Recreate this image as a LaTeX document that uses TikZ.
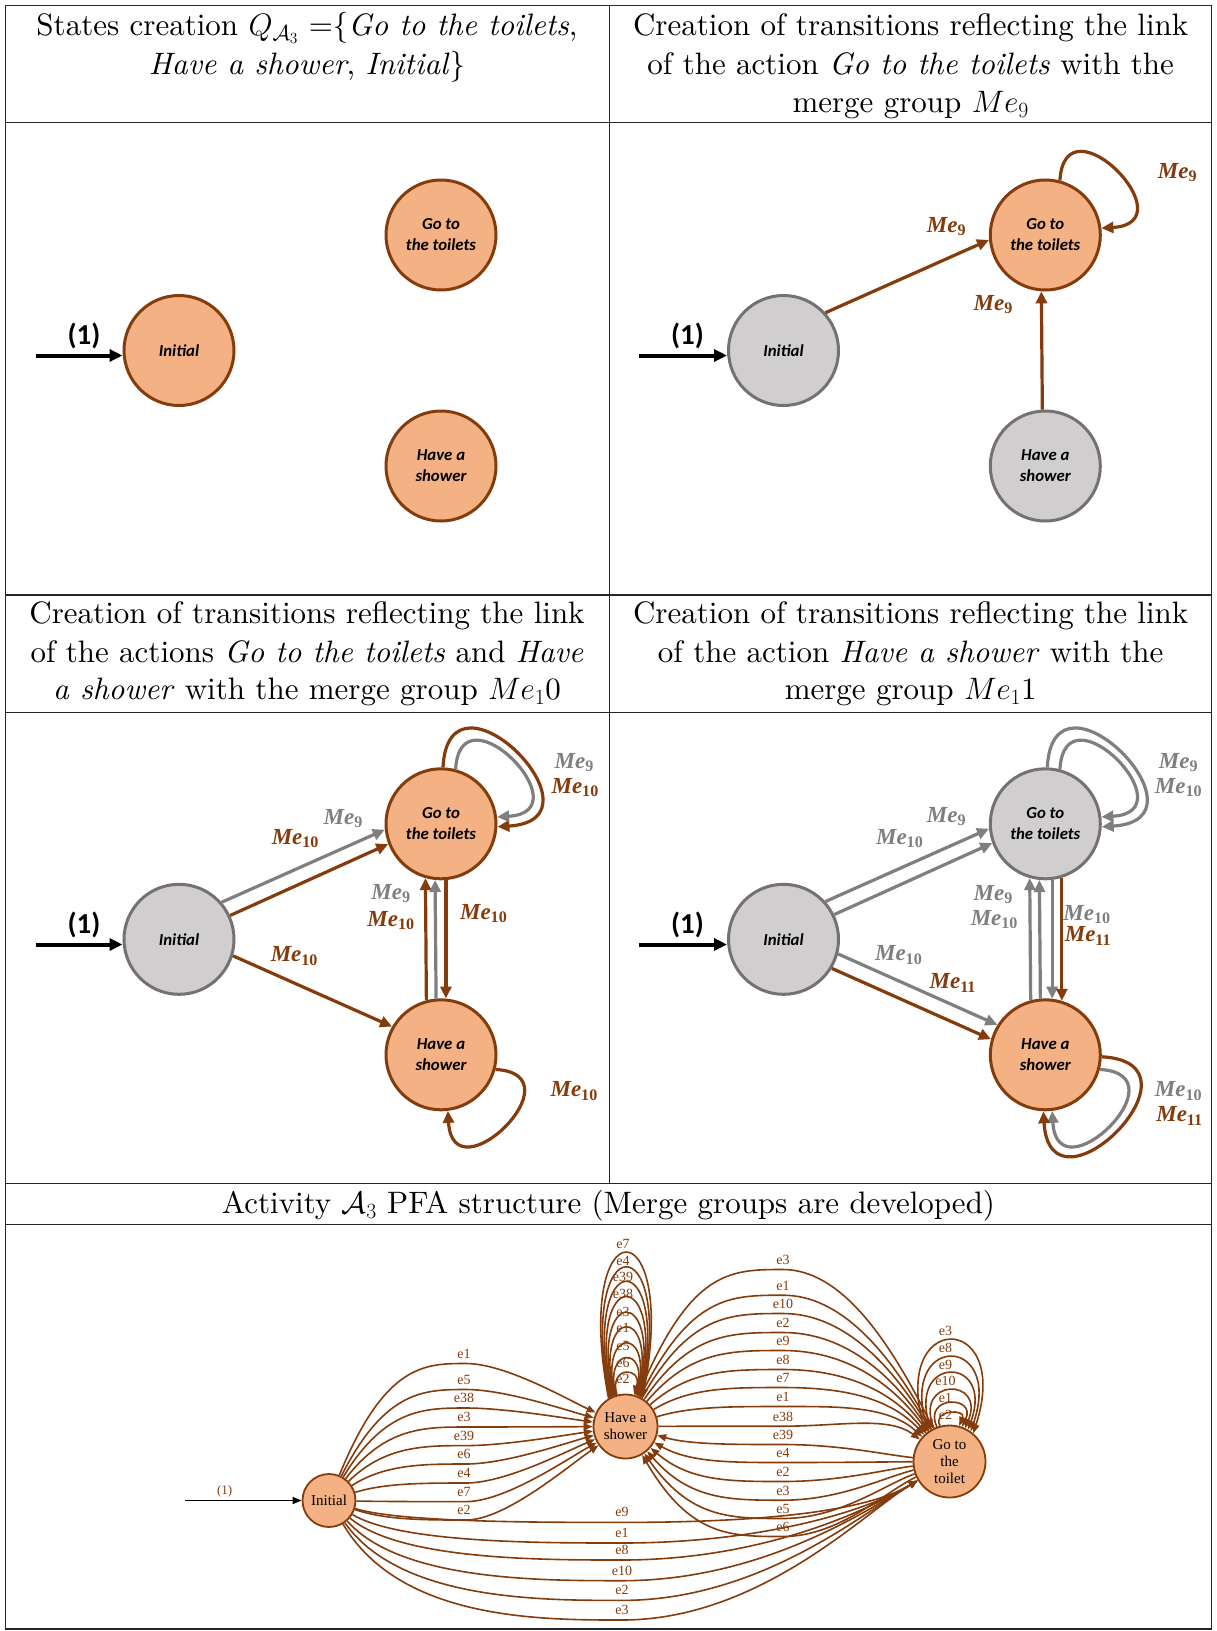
\RequirePackage{fix-cm}
\documentclass[tikz,border=0pt]{standalone}
\usepackage{fontspec}
\setmainfont{lmroman10-regular.otf}[BoldFont=lmroman10-bold.otf,ItalicFont=lmroman10-italic.otf,BoldItalicFont=lmroman10-bolditalic.otf]
\newfontfamily\carl{Carlito}
\newfontfamily\lib{Liberation Serif}
\usetikzlibrary{calc,arrows.meta}
\definecolor{brownc}{HTML}{843C0C}
\definecolor{orangef}{HTML}{F4B183}
\definecolor{grayf}{HTML}{D0CECE}
\definecolor{grayd}{HTML}{767171}
\definecolor{grayl}{HTML}{7F7F7F}
\newcommand\mee[1]{\textit{Me}\textsubscript{#1}}
\newcommand\paredge[4]{\draw[#1] let \p1=($(#3)-(#2)$), \n1={atan2(\y1,\x1)}, \n2={asin(#4/57)}, \n3={\n1+\n2}, \n4={\n1+180-\n2} in (#2.\n3) -- (#3.\n4);}
\tikzset{
  onode/.style={circle, minimum size=110pt, inner sep=0pt, fill=orangef, draw=brownc, line width=3pt, align=center, font=\carl\bfseries\itshape\fontsize{16.8}{21}\selectfont},
  gnode/.style={onode, fill=grayf, draw=grayd},
  bedge/.style={draw=brownc, line width=3.2pt, -{Triangle[length=12pt,width=11pt]}},
  gedge/.style={draw=grayl, line width=3.2pt, -{Triangle[length=12pt,width=11pt]}},
  startarr/.style={draw=black, line width=4pt, -{Triangle[length=13pt,width=12pt]}},
  onelab/.style={font=\carl\bfseries\fontsize{29}{32}\selectfont, inner sep=0pt},
  mlab/.style={font=\lib\bfseries\fontsize{23}{25}\selectfont, text=brownc, inner sep=0pt},
  mlabg/.style={mlab, text=grayl},
  hdr/.style={anchor=base, inner sep=0pt, font=\fontsize{31}{38.5}\selectfont},
  tline/.style={draw=black!85, line width=1.2pt},
  bnode/.style={circle, inner sep=0pt, fill=orangef, draw=brownc, line width=1.8pt, align=center, font=\lib\fontsize{15}{17}\selectfont},
  be/.style={draw=brownc, line width=1.6pt, -{Triangle[length=9pt,width=7pt]}},
  bl/.style={font=\lib\fontsize{14}{15}\selectfont, text=brownc, inner sep=0pt},
}
\begin{document}
\begin{tikzpicture}[x=1pt,y=-1pt]
\useasboundingbox (0,0) rectangle (1217,1631);
\fill[white] (0,0) rectangle (1217,1631);
% table
\draw[tline] (5.2,5.2) rectangle (1211.8,1629);
\draw[tline] (5.2,122.7) -- (1211.8,122.7);
\draw[tline] (5.2,595) -- (1211.8,595);
\draw[tline] (5.2,712.5) -- (1211.8,712.5);
\draw[tline] (5.2,1183.7) -- (1211.8,1183.7);
\draw[tline] (5.2,1224.3) -- (1211.8,1224.3);
\draw[tline] (609.5,5.2) -- (609.5,1183.7);
% headers
\node[hdr] (h1) at (307,35.5) {States creation $Q_{\mathcal{A}_3}$ =\{\textit{Go to the toilets},};
\node[hdr] (h2) at (307,74) {\textit{Have a shower}, \textit{Initial}\}};
\node[hdr] (h3) at (910.7,35.5) {Creation of transitions reflecting the link};
\node[hdr] (h4) at (910.7,74) {of the action \textit{Go to the toilets} with the};
\node[hdr] (h5) at (910.7,112.5) {merge group $Me_9$};
\node[hdr] (h6) at (307,623.7) {Creation of transitions reflecting the link};
\node[hdr] (h7) at (307,662.2) {of the actions \textit{Go to the toilets} and \textit{Have}};
\node[hdr] (h8) at (307,699.6) {\textit{a shower} with the merge group $Me_1$0};
\node[hdr] (h9) at (910.7,623.7) {Creation of transitions reflecting the link};
\node[hdr] (h10) at (910.7,662.2) {of the action \textit{Have a shower} with the};
\node[hdr] (h11) at (910.7,699.6) {merge group $Me_1$1};
\node[hdr] (h12) at (608.5,1213.5) {Activity $\mathcal{A}_3$ PFA structure (Merge groups are developed)};

% ---------- panel 1
\node[onode] (i1) at (179,350.5) {Initial};
\node[onode] (g1) at (441,235) {Go to\\the toilets};
\node[onode] (s1) at (441,466) {Have a\\shower};
\coordinate (a1) at (35.5,355.5);
\draw[startarr] (a1) -- (a1 -| i1.west);
\node[onelab] (o1) at (84,336) {(1)};

% ---------- panel 2
\node[gnode] (i2) at (783.5,350.5) {Initial};
\node[onode] (g2) at (1045.3,235) {Go to\\the toilets};
\node[gnode] (s2) at (1045.3,466) {Have a\\shower};
\coordinate (a2) at (639,355.5);
\draw[startarr] (a2) -- (a2 -| i2.west);
\node[onelab] (o2) at (687.5,336) {(1)};
\paredge{bedge}{i2}{g2}{18}
\paredge{bedge}{s2}{g2}{3}
\draw[bedge] (g2.75) .. controls +(5,-85) and +(88,-5) .. (g2.7);
\node[mlab] (m21) at (946.5,226.8) {\mee{9}};
\node[mlab] (m22) at (993.3,304.8) {\mee{9}};
\node[mlab] (m23) at (1177.5,172.7) {\mee{9}};

% ---------- panel 3
\node[gnode] (i3) at (179,939.3) {Initial};
\node[onode] (g3) at (441,823.8) {Go to\\the toilets};
\node[onode] (s3) at (441,1054.8) {Have a\\shower};
\coordinate (a3) at (35.5,944.5);
\draw[startarr] (a3) -- (a3 -| i3.west);
\node[onelab] (o3) at (84,924.7) {(1)};
\paredge{gedge}{i3}{g3}{17}
\paredge{bedge}{i3}{g3}{2}
\paredge{bedge}{i3}{s3}{6}
\paredge{bedge}{s3}{g3}{15}
\paredge{gedge}{s3}{g3}{5}
\paredge{bedge}{g3}{s3}{4}
\draw[bedge] (g3.88) .. controls +(6,-113) and +(115,-7) .. (g3.-3);
\draw[gedge] (g3.75) .. controls +(5,-85) and +(88,-5) .. (g3.7);
\draw[bedge] (s3.-15) .. controls +(85,5) and +(5,88) .. (s3.-83);
\node[mlabg] (m31) at (574.2,762.4) {\mee{9}};
\node[mlab] (m32) at (575.2,787.4) {\mee{10}};
\node[mlabg] (m33) at (343.2,818.6) {\mee{9}};
\node[mlab] (m34) at (295.4,838.4) {\mee{10}};
\node[mlabg] (m35) at (391.1,893.5) {\mee{9}};
\node[mlab] (m36) at (391.1,920.5) {\mee{10}};
\node[mlab] (m37) at (483.7,913.3) {\mee{10}};
\node[mlab] (m38) at (294.4,955.9) {\mee{10}};
\node[mlab] (m39) at (574.2,1091.1) {\mee{10}};

% ---------- panel 4
\node[gnode] (i4) at (783.5,939.3) {Initial};
\node[gnode] (g4) at (1045.3,823.8) {Go to\\the toilets};
\node[onode] (s4) at (1045.3,1054.8) {Have a\\shower};
\coordinate (a4) at (639,944.5);
\draw[startarr] (a4) -- (a4 -| i4.west);
\node[onelab] (o4) at (687.5,924.7) {(1)};
\paredge{gedge}{i4}{g4}{18}
\paredge{gedge}{i4}{g4}{3}
\paredge{gedge}{i4}{s4}{8}
\paredge{bedge}{i4}{s4}{-8}
\paredge{gedge}{s4}{g4}{15}
\paredge{gedge}{s4}{g4}{5}
\paredge{gedge}{g4}{s4}{6}
\paredge{bedge}{g4}{s4}{16}
\draw[gedge] (g4.88) .. controls +(6,-113) and +(115,-7) .. (g4.-3);
\draw[gedge] (g4.75) .. controls +(5,-85) and +(88,-5) .. (g4.7);
\draw[gedge] (s4.-15) .. controls +(85,5) and +(5,88) .. (s4.-83);
\draw[bedge] (s4.-2) .. controls +(113,6) and +(7,115) .. (s4.-92);
\node[mlabg] (m41) at (946.5,816.5) {\mee{9}};
\node[mlabg] (m42) at (899.7,838.4) {\mee{10}};
\node[mlabg] (m43) at (993.3,894.5) {\mee{9}};
\node[mlabg] (m44) at (994.4,919.5) {\mee{10}};
\node[mlabg] (m45) at (1087,914.3) {\mee{10}};
\node[mlab] (m46) at (1088,936.1) {\mee{11}};
\node[mlabg] (m47) at (898.7,954.9) {\mee{10}};
\node[mlab] (m48) at (952.8,983) {\mee{11}};
\node[mlabg] (m49) at (1178.5,762.4) {\mee{9}};
\node[mlabg] (m410) at (1178.5,787.4) {\mee{10}};
\node[mlabg] (m411) at (1178.5,1091.1) {\mee{10}};
\node[mlab] (m412) at (1179.5,1116.1) {\mee{11}};

% ---------- bottom PFA
\node[bnode, minimum size=53pt] (bi) at (329,1500.5) {Initial};
\node[bnode, minimum size=64pt] (bs) at (625.5,1426.5) {Have a\\shower};
\node[bnode, minimum size=72pt] (bg) at (949.5,1461.5) {Go to\\the\\toilet};
\coordinate (ba) at (185,1500.5);
\draw[draw=black, line width=1.5pt, -{Triangle[length=9pt,width=7pt]}] (ba) -- (bi);
\node[bl, font=\lib\fontsize{13}{14}\selectfont] (bo) at (224.7,1491) {(1)};

\foreach \lab/\ly [count=\k] in {e1/1353.5,e5/1379.5,e38/1398,e3/1417,e39/1435.6,e6/1454,e4/1473,e7/1491.6,e2/1510}{
  \pgfmathsetmacro\yl{\ly+10}
  \pgfmathsetmacro\ye{0.45*\yl+0.55*1426.5}
  \draw[be] (bi) .. controls (385,\yl) and (425,\yl) .. (466,\yl) .. controls (505,\yl) and (565,\ye) .. (bs);
  \node[bl] (ia\k) at (464,\ly) {\lab};
}
\foreach \lab/\ly [count=\k] in {e9/1512.4,e1/1533,e8/1550,e10/1570.7,e2/1590.4,e3/1610}{
  \pgfmathsetmacro\yl{\ly+10}
  \draw[be] (bi) .. controls (400,\yl) and (540,\yl) .. (622,\yl) .. controls (760,\yl) and (865,1512) .. (bg);
  \node[bl] (ib\k) at (622,\ly) {\lab};
}
\foreach \lab/\ly [count=\k] in {e3/1260,e1/1285.7,e10/1304,e2/1323,e9/1341,e8/1360,e7/1378,e1/1397,e38/1416.7}{
  \pgfmathsetmacro\yl{\ly+9.5}
  \pgfmathsetmacro\ye{0.5*\yl+0.5*1405}
  \draw[be] (bs) .. controls (690,\yl) and (730,\yl) .. (783,\yl) .. controls (840,\yl) and (888,\ye) .. (bg);
  \node[bl] (sa\k) at (783,\ly) {\lab};
}
\foreach \lab/\ly [count=\k] in {e39/1435,e4/1453,e2/1472,e3/1490.7,e5/1509,e6/1527}{
  \pgfmathsetmacro\yl{\ly+9.5}
  \pgfmathsetmacro\ye{0.4*\yl+0.6*1461.5}
  \draw[be] (bg) .. controls (885,\ye) and (840,\yl) .. (783,\yl) .. controls (730,\yl) and (690,\yl) .. (bs);
  \node[bl] (sb\k) at (783,\ly) {\lab};
}
\foreach \lab/\ly [count=\k from 0] in {e2/1379,e6/1362.6,e5/1346,e1/1328,e3/1311.6,e38/1294,e39/1277,e4/1260.6,e7/1244}{
  \pgfmathsetmacro\lpt{\ly-6+15*\k/8}
  \pgfmathtruncatemacro\angA{105+2*\k}
  \pgfmathtruncatemacro\angB{180-\angA}
  \pgfmathsetmacro\lpy{1426.5-33*sin(\angA)}
  \pgfmathsetmacro\lph{(\lpy-\lpt)/0.75}
  \pgfmathsetmacro\lpa{9+3.5*\k}
  \draw[be] (bs.\angA) .. controls +(-\lpa,-\lph) and +(\lpa,-\lph) .. (bs.\angB);
  \node[bl] (sl\k) at (623,\ly) {\lab};
}
\foreach \lab/\ly/\tpv [count=\k from 0] in {e2/1414.6/1413,e1/1398/1403,e10/1381/1390,e9/1364.7/1373,e8/1348/1357,e3/1330.5/1340}{
  \pgfmathtruncatemacro\angA{105+5*\k}
  \pgfmathtruncatemacro\angB{180-\angA}
  \pgfmathsetmacro\lpy{1461.5-37*sin(\angA)}
  \pgfmathsetmacro\lph{(\lpy-\tpv)/0.75}
  \pgfmathsetmacro\lpa{8+6.5*\k}
  \draw[be] (bg.\angA) .. controls +(-\lpa,-\lph) and +(\lpa,-\lph) .. (bg.\angB);
  \node[bl] (tl\k) at (945.5,\ly) {\lab};
}
\end{tikzpicture}
\end{document}
